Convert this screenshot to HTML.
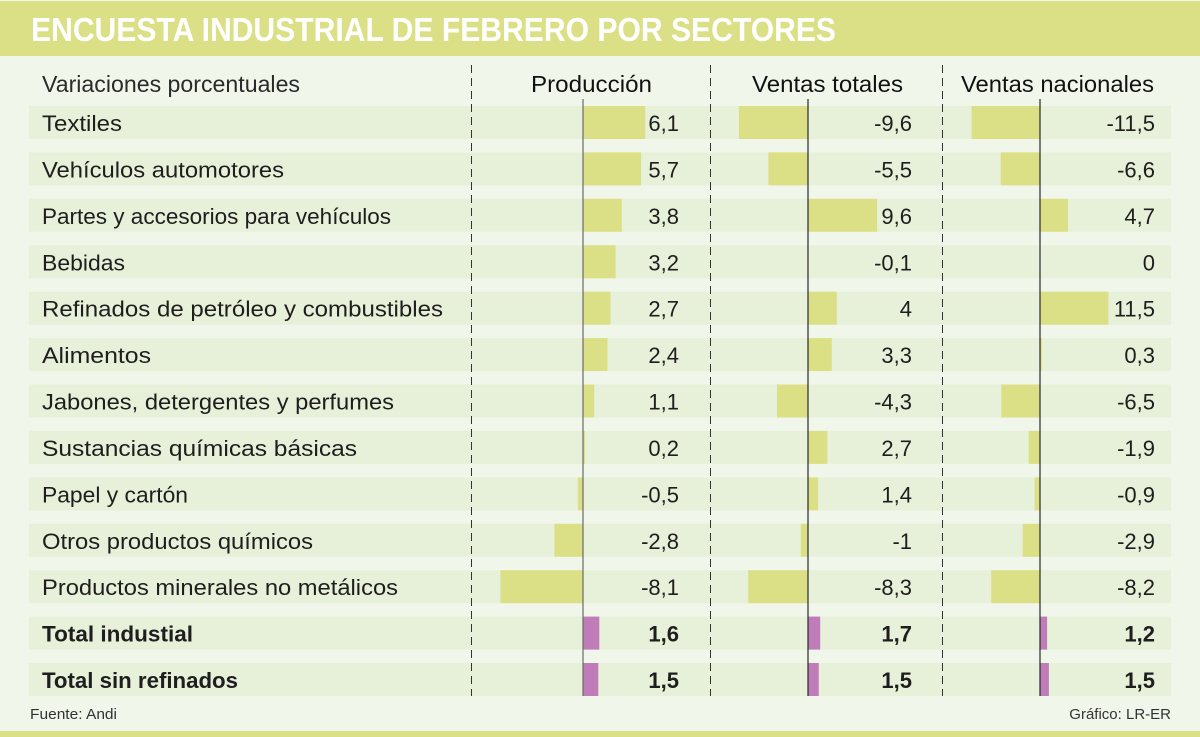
<!DOCTYPE html>
<html><head><meta charset="utf-8"><style>
html,body{margin:0;padding:0;background:#f1f6eb;}
svg{display:block;}
text{font-family:"Liberation Sans",sans-serif;fill:#1e1e1e;}
</style></head><body>
<svg width="1200" height="737" viewBox="0 0 1200 737" xmlns="http://www.w3.org/2000/svg">
<rect x="0" y="0" width="1200" height="737" fill="#f1f6eb"/>
<rect x="0" y="1" width="1200" height="55" fill="#dbe086"/>
<text x="31" y="41" font-size="33" font-weight="bold" style="fill:#ffffff" textLength="805" lengthAdjust="spacingAndGlyphs">ENCUESTA INDUSTRIAL DE FEBRERO POR SECTORES</text>
<rect x="0" y="731" width="1200" height="6" fill="#dbe086"/>

<!-- row bands -->
<g fill="#e7f0d9">
<rect x="29" y="106" width="1142" height="33"/>
<rect x="29" y="152.4" width="1142" height="33"/>
<rect x="29" y="198.8" width="1142" height="33"/>
<rect x="29" y="245.3" width="1142" height="33"/>
<rect x="29" y="291.7" width="1142" height="33"/>
<rect x="29" y="338.1" width="1142" height="33"/>
<rect x="29" y="384.5" width="1142" height="33"/>
<rect x="29" y="430.9" width="1142" height="33"/>
<rect x="29" y="477.4" width="1142" height="33"/>
<rect x="29" y="523.8" width="1142" height="33"/>
<rect x="29" y="570.2" width="1142" height="33"/>
<rect x="29" y="616.6" width="1142" height="33"/>
<rect x="29" y="663" width="1142" height="33"/>
</g>

<!-- dashed separators -->
<g stroke="#333" stroke-width="1" stroke-dasharray="8 5">
<line x1="471.5" y1="65" x2="471.5" y2="696"/>
<line x1="710.5" y1="65" x2="710.5" y2="696"/>
<line x1="942.5" y1="65" x2="942.5" y2="696"/>
</g>

<!-- Produccion bars -->
<g fill="#dbe086">
<rect x="583" y="106" width="62.2" height="33"/>
<rect x="583" y="152.4" width="58.1" height="33"/>
<rect x="583" y="198.8" width="38.8" height="33"/>
<rect x="583" y="245.3" width="32.6" height="33"/>
<rect x="583" y="291.7" width="27.5" height="33"/>
<rect x="583" y="338.1" width="24.5" height="33"/>
<rect x="583" y="384.5" width="11.2" height="33"/>
<rect x="583" y="430.9" width="2" height="33"/>
<rect x="577.9" y="477.4" width="5.1" height="33"/>
<rect x="554.4" y="523.8" width="28.6" height="33"/>
<rect x="500.4" y="570.2" width="82.6" height="33"/>
</g>
<!-- Ventas totales bars -->
<g fill="#dbe086">
<rect x="738.9" y="106" width="69.1" height="33"/>
<rect x="768.4" y="152.4" width="39.6" height="33"/>
<rect x="808" y="198.8" width="69.1" height="33"/>
<rect x="807.3" y="245.3" width="0.7" height="33"/>
<rect x="808" y="291.7" width="28.8" height="33"/>
<rect x="808" y="338.1" width="23.8" height="33"/>
<rect x="777" y="384.5" width="31" height="33"/>
<rect x="808" y="430.9" width="19.4" height="33"/>
<rect x="808" y="477.4" width="10.1" height="33"/>
<rect x="800.8" y="523.8" width="7.2" height="33"/>
<rect x="748.2" y="570.2" width="59.8" height="33"/>
</g>
<!-- Ventas nacionales bars -->
<g fill="#dbe086">
<rect x="971.6" y="106" width="68.4" height="33"/>
<rect x="1000.7" y="152.4" width="39.3" height="33"/>
<rect x="1040" y="198.8" width="28" height="33"/>
<rect x="1040" y="291.7" width="68.4" height="33"/>
<rect x="1040" y="338.1" width="1.8" height="33"/>
<rect x="1001.3" y="384.5" width="38.7" height="33"/>
<rect x="1028.7" y="430.9" width="11.3" height="33"/>
<rect x="1034.6" y="477.4" width="5.4" height="33"/>
<rect x="1022.7" y="523.8" width="17.3" height="33"/>
<rect x="991.2" y="570.2" width="48.8" height="33"/>
</g>
<!-- totals (purple) -->
<g fill="#c07cb9">
<rect x="583" y="616.6" width="16.3" height="33"/>
<rect x="583" y="663" width="15.3" height="33"/>
<rect x="808" y="616.6" width="12.2" height="33"/>
<rect x="808" y="663" width="10.8" height="33"/>
<rect x="1040" y="616.6" width="7.1" height="33"/>
<rect x="1040" y="663" width="8.9" height="33"/>
</g>

<!-- zero axes -->
<line x1="583" y1="99" x2="583" y2="696" stroke="#6a6a6a" stroke-width="1.2"/>
<line x1="808" y1="99" x2="808" y2="696" stroke="#2a2a2a" stroke-width="1.2"/>
<line x1="1040" y1="99" x2="1040" y2="696" stroke="#2a2a2a" stroke-width="1.2"/>

<!-- headers -->
<g font-size="23">
<text x="42" y="92" textLength="258" lengthAdjust="spacingAndGlyphs" style="fill:#2a2a2a">Variaciones porcentuales</text>
<text x="531" y="92" textLength="121" lengthAdjust="spacingAndGlyphs" style="fill:#111">Producción</text>
<text x="752" y="92" textLength="151" lengthAdjust="spacingAndGlyphs" style="fill:#111">Ventas totales</text>
<text x="961" y="92" textLength="193" lengthAdjust="spacingAndGlyphs" style="fill:#111">Ventas nacionales</text>
</g>

<!-- labels -->
<g font-size="22" style="fill:#2a2a2a">
<text x="42" y="131" textLength="80" lengthAdjust="spacingAndGlyphs">Textiles</text>
<text x="42" y="177.4" textLength="242" lengthAdjust="spacingAndGlyphs">Vehículos automotores</text>
<text x="42" y="223.8" textLength="349" lengthAdjust="spacingAndGlyphs">Partes y accesorios para vehículos</text>
<text x="42" y="270.3" textLength="83" lengthAdjust="spacingAndGlyphs">Bebidas</text>
<text x="42" y="316.7" textLength="401" lengthAdjust="spacingAndGlyphs">Refinados de petróleo y combustibles</text>
<text x="42" y="363.1" textLength="109" lengthAdjust="spacingAndGlyphs">Alimentos</text>
<text x="42" y="409.5" textLength="352" lengthAdjust="spacingAndGlyphs">Jabones, detergentes y perfumes</text>
<text x="42" y="455.9" textLength="315" lengthAdjust="spacingAndGlyphs">Sustancias químicas básicas</text>
<text x="42" y="502.4" textLength="146" lengthAdjust="spacingAndGlyphs">Papel y cartón</text>
<text x="42" y="548.8" textLength="271" lengthAdjust="spacingAndGlyphs">Otros productos químicos</text>
<text x="42" y="595.2" textLength="356" lengthAdjust="spacingAndGlyphs">Productos minerales no metálicos</text>
</g>
<g font-size="22" font-weight="bold" style="fill:#111">
<text x="42" y="641.6" textLength="151" lengthAdjust="spacingAndGlyphs">Total industial</text>
<text x="42" y="688" textLength="196" lengthAdjust="spacingAndGlyphs">Total sin refinados</text>
</g>

<!-- values -->
<g font-size="22" text-anchor="end" style="fill:#2a2a2a">
<text x="679" y="131">6,1</text>
<text x="679" y="177.4">5,7</text>
<text x="679" y="223.8">3,8</text>
<text x="679" y="270.3">3,2</text>
<text x="679" y="316.7">2,7</text>
<text x="679" y="363.1">2,4</text>
<text x="679" y="409.5">1,1</text>
<text x="679" y="455.9">0,2</text>
<text x="679" y="502.4">-0,5</text>
<text x="679" y="548.8">-2,8</text>
<text x="679" y="595.2">-8,1</text>

<text x="912" y="131">-9,6</text>
<text x="912" y="177.4">-5,5</text>
<text x="912" y="223.8">9,6</text>
<text x="912" y="270.3">-0,1</text>
<text x="912" y="316.7">4</text>
<text x="912" y="363.1">3,3</text>
<text x="912" y="409.5">-4,3</text>
<text x="912" y="455.9">2,7</text>
<text x="912" y="502.4">1,4</text>
<text x="912" y="548.8">-1</text>
<text x="912" y="595.2">-8,3</text>

<text x="1155" y="131">-11,5</text>
<text x="1155" y="177.4">-6,6</text>
<text x="1155" y="223.8">4,7</text>
<text x="1155" y="270.3">0</text>
<text x="1155" y="316.7">11,5</text>
<text x="1155" y="363.1">0,3</text>
<text x="1155" y="409.5">-6,5</text>
<text x="1155" y="455.9">-1,9</text>
<text x="1155" y="502.4">-0,9</text>
<text x="1155" y="548.8">-2,9</text>
<text x="1155" y="595.2">-8,2</text>
</g>
<g font-size="22" font-weight="bold" text-anchor="end" style="fill:#111">
<text x="679" y="641.6">1,6</text>
<text x="679" y="688">1,5</text>
<text x="912" y="641.6">1,7</text>
<text x="912" y="688">1,5</text>
<text x="1155" y="641.6">1,2</text>
<text x="1155" y="688">1,5</text>
</g>

<!-- footer -->
<text x="30" y="719" font-size="15" textLength="87" lengthAdjust="spacingAndGlyphs" style="fill:#333">Fuente: Andi</text>
<text x="1171" y="719" font-size="15" text-anchor="end" style="fill:#333">Gráfico: LR-ER</text>
</svg>
</body></html>
